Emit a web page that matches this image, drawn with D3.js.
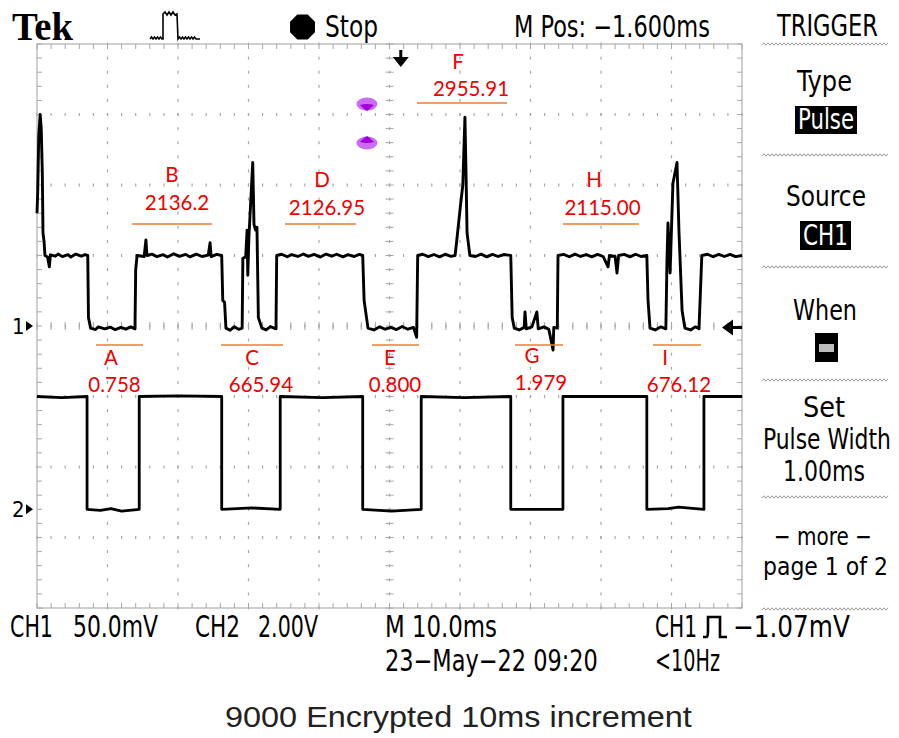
<!DOCTYPE html>
<html><head><meta charset="utf-8">
<script src="https://cdn.jsdelivr.net/npm/d3@7"></script>
<style>html,body{margin:0;padding:0;background:#fff;}svg{display:block;}</style>
</head><body>
<svg id="c" width="899" height="738"></svg>
<script>
// ================= DATA =================
const timeDomain = [0, 100];          // ms (10 div x 10.0 ms)
const divDomain = [-4, 4];            // vertical divisions
const ch1PerDiv = 50;                 // mV / div
const ch2PerDiv = 2;                  // V / div
const ch1GroundDiv = 0;
const ch2GroundDiv = -2.6;
const triggerLevel = -1.07;           // mV (CH1)
const triggerTime = 51.6;             // ms (M Pos -1.600ms from centre)

// CH1 trace [ms, mV]
const ch1Trace = [
 [0,80],[0.1,95],[0.25,135],[0.45,150],[0.6,140],[0.75,110],[0.85,66],[1.0,60],[1.13,50],
 [1.5,49],[1.75,42],[1.9,50.5],[2.6,49.5],[3.0,51],[3.6,49.2],[4.4,50.6],[4.8,48.9],[5.5,51],[6.3,49.5],[6.8,50.6],[7.2,50],
 [7.3,6],[7.6,-1.5],[8.3,-2.5],[8.7,-0.6],[9.6,-2],[10.4,-0.8],[11.1,-2.6],[11.9,-1],[12.6,-2.2],[13.3,-0.6],[13.9,-2],
 [14.0,40],[14.2,50],[15.2,49.3],[15.45,61],[15.6,50],[16.3,51],[17.0,49.2],[17.9,50.6],[18.5,48.9],[19.4,51.2],[20.2,49.4],
 [21.1,50.8],[21.7,49],[22.6,51],[23.4,49.3],[24.3,50.3],[24.55,59],[24.7,49.2],[25.5,50.8],[26.2,50],
 [26.35,18],[26.6,17],[26.8,-1.5],[27.4,-3],[28.0,-0.5],[28.6,-2.4],[29.1,-1.5],
 [29.2,48],[29.6,49],[29.8,68],[29.9,36],[30.05,62],[30.35,91.5],[30.6,116],[30.78,72],[31.0,68],[31.2,70],
 [31.4,6],[31.9,-1.5],[32.5,-2.8],[33.1,-0.4],[33.9,-2],
 [34.0,50],[34.7,50.9],[35.5,49.1],[36.1,50.7],[37.0,49.3],[37.8,51.1],[38.5,49.4],[39.3,50.8],[40.2,48.9],[41.0,51],
 [41.8,49.5],[42.5,50.9],[43.4,49],[44.1,50.6],[45.0,49.3],[45.7,50.8],[46.2,50],
 [46.4,18],[46.95,-1.5],[47.8,-2.8],[48.6,-0.6],[49.4,-2.3],[50.2,-1],[51.0,-2.5],[51.8,-0.4],[52.6,-2.3],[53.4,-1],[53.85,-8],
 [54.0,50],[54.7,50.9],[55.5,49.2],[56.3,50.7],[57.1,49],[57.9,50.9],[58.7,49.4],[59.3,50],
 [59.55,61],[60.1,87],[60.4,100],[60.7,148],[60.85,110],[61.0,66],[61.4,50],
 [62.2,49.3],[63.0,51],[63.8,49],[64.6,50.8],[65.4,49.3],[66.2,50.7],[67.2,50],
 [67.4,6],[67.7,-1.5],[68.4,-2.8],[69.1,-1],[69.22,10],[69.4,-2],[70.2,-0.6],[70.9,10],[71.1,-2],[71.9,-0.6],[72.6,-2.4],
 [73.2,-17],[73.3,-1],[73.8,-1.5],
 [73.9,50],[74.7,50.8],[75.5,49.1],[76.3,51],[77.1,49.3],[77.9,50.7],[78.7,49],[79.5,50.8],[80.3,49.3],[81.0,42],[81.2,50],
 [82.0,49.3],[82.27,37.6],[82.5,50],[83.3,50.8],[84.1,49],[84.9,50.9],[85.7,49.3],[86.5,50],
 [86.67,18.4],[86.95,-1.5],[87.7,-2.8],[88.5,-0.6],[89.2,-2],
 [89.36,47],[89.5,73],[89.8,37.6],[90.2,101],[90.78,116],[91.06,67],[91.5,11],[91.9,-1.5],[92.7,-2.8],[93.4,-0.6],[93.9,-2],
 [94.3,50],[95.1,50.9],[95.9,49.1],[96.7,50.8],[97.5,49.3],[98.3,50.8],[99.1,49.2],[100,50]
];

// CH2 trace [ms, V]
const ch2Trace = [
 [0,3.2],[3.5,3.17],[7.1,3.2],[7.1,0],[9,-0.03],[10.5,0.02],[12,-0.05],[14.5,0],[14.5,3.2],[20,3.22],[26.2,3.2],
 [26.2,0],[30.5,0.04],[34.5,0],[34.5,3.2],[40.5,3.17],[46.2,3.2],[46.2,0],[50.3,-0.05],[54.5,0],[54.5,3.2],
 [60.6,3.17],[67.2,3.2],[67.2,0],[74.6,0],[74.6,3.2],[86.5,3.2],[86.5,0],[89.5,0.02],[91.0,0.06],[94.6,0],
 [94.6,3.2],[100,3.2]
];

// Annotations (CH1 units: ms for time, mV for level)
const annLabels      = ["F","B","D","H","A","C","E","G","I"];
const annValues      = ["2955.91","2136.2","2126.95","2115.00","0.758","665.94","0.800","1.979","676.12"];
const annStart       = [53.9,13.48,35.18,74.61,8.37,26.1,47.52,67.8,87.38];
const annEnd         = [66.67,24.82,45.25,85.39,15.04,34.89,54.18,74.61,94.18];
const annLevel       = [158.2,72.3,72.3,72.3,-13.5,-13.5,-13.5,-13.5,-13.5];
const annLetterAt    = [59.72,19.15,40.43,79.01,10.5,30.5,50.07,70.21,89.08];
const annValueAt     = [61.56,19.86,41.13,80.21,10.99,31.77,50.78,71.49,91.06];
const annLetterLevel = [182.3,102.1,98.6,98.6,-27.7,-27.7,-27.7,-26.2,-27.7];
const annValueLevel  = [163.1,82.3,78.7,78.7,-46.8,-46.8,-46.8,-45.4,-46.8];

// purple markers [ms, mV]
const markerTime = 46.8;
const markerLevels = [157.4, 129.8];
const markerDirs = ["down","up"];

// Display labels
const topLabels = ["Stop", "M Pos: −1.600ms", "TRIGGER"];
const menuLabels = ["Type","Source","When","Set","Pulse Width","1.00ms","− more −","page 1 of 2"];
const menuBoxed = ["Pulse","CH1"];
const statusLabels = ["CH1","50.0mV","CH2","2.00V","M 10.0ms","CH1","−1.07mV","23−May−22 09:20","<10Hz"];
const caption = "9000 Encrypted 10ms increment";

// ================= DRAW =================
const svg = d3.select("#c");
svg.append("rect").attr("width",899).attr("height",738).attr("fill","#fff");

const X0 = 37, X1 = 742, Y0 = 44, Y1 = 608;
const xs = d3.scaleLinear().domain(timeDomain).range([X0, X1]);
const ys = d3.scaleLinear().domain(divDomain).range([Y1, Y0]);
const y1 = v => ys(ch1GroundDiv + v / ch1PerDiv);
const y2 = v => ys(ch2GroundDiv + v / ch2PerDiv);

const gridCol = "#a8a8a8";
const grid = svg.append("g");
const minorT = d3.range(timeDomain[0], timeDomain[1] + 0.01, 2);
const minorD = d3.range(divDomain[0], divDomain[1] + 0.01, 0.2);
const majorT = d3.range(10, 100, 10);
const majorD = d3.range(-3, 4, 1);

majorT.forEach(t => {
  grid.selectAll(null).data(minorD).enter().append("rect")
    .attr("x", xs(t) - 0.6).attr("y", d => ys(d) - 1.5).attr("width", 1.2).attr("height", 3)
    .attr("fill", gridCol);
});
majorD.forEach(dv => {
  grid.selectAll(null).data(minorT).enter().append("rect")
    .attr("x", d => xs(d) - 0.6).attr("y", ys(dv) - 1.5).attr("width", 1.2).attr("height", 3)
    .attr("fill", gridCol);
});
grid.selectAll(null).data(minorD).enter().append("line")
  .attr("x1", xs(50) - 4).attr("x2", xs(50) + 4).attr("y1", d => ys(d)).attr("y2", d => ys(d))
  .attr("stroke", gridCol).attr("stroke-width", 1);
grid.selectAll(null).data(minorT).enter().append("line")
  .attr("x1", d => xs(d)).attr("x2", d => xs(d)).attr("y1", ys(0) - 4).attr("y2", ys(0) + 4)
  .attr("stroke", gridCol).attr("stroke-width", 1);
grid.append("rect").attr("x", X0).attr("y", Y0).attr("width", X1 - X0).attr("height", Y1 - Y0)
  .attr("fill", "none").attr("stroke", "#b0b0b0").attr("stroke-width", 1.2);
grid.selectAll(null).data(minorT).enter().append("line")
  .attr("x1", d => xs(d)).attr("x2", d => xs(d)).attr("y1", Y0).attr("y2", Y0 + 5).attr("stroke", gridCol);
grid.selectAll(null).data(minorT).enter().append("line")
  .attr("x1", d => xs(d)).attr("x2", d => xs(d)).attr("y1", Y1).attr("y2", Y1 - 5).attr("stroke", gridCol);
grid.selectAll(null).data(minorD).enter().append("line")
  .attr("x1", X0).attr("x2", X0 + 5).attr("y1", d => ys(d)).attr("y2", d => ys(d)).attr("stroke", gridCol);
grid.selectAll(null).data(minorD).enter().append("line")
  .attr("x1", X1).attr("x2", X1 - 5).attr("y1", d => ys(d)).attr("y2", d => ys(d)).attr("stroke", gridCol);

// traces
const line1 = d3.line().x(d => xs(d[0])).y(d => y1(d[1]));
const line2 = d3.line().x(d => xs(d[0])).y(d => y2(d[1]));
svg.append("path").attr("d", line2(ch2Trace)).attr("fill", "none").attr("stroke", "#000")
  .attr("stroke-width", 2.8).attr("stroke-linejoin", "round");
svg.append("path").attr("d", line1(ch1Trace)).attr("fill", "none").attr("stroke", "#000")
  .attr("stroke-width", 2.9).attr("stroke-linejoin", "round");

// purple markers
markerLevels.forEach((lv, i) => {
  const cx = xs(markerTime), cy = y1(lv);
  const g = svg.append("g");
  g.append("ellipse").attr("cx", cx).attr("cy", cy).attr("rx", 10.5).attr("ry", 6.5).attr("fill", "#cc6cf5");
  const s = markerDirs[i] === "down" ? 1 : -1;
  g.append("path")
    .attr("d", `M${cx-7},${cy+s*1} Q${cx},${cy-s*1} ${cx+7},${cy+s*1} Q${cx+3},${cy+s*5} ${cx},${cy+s*7} Q${cx-3},${cy+s*5} ${cx-7},${cy+s*1}Z`)
    .attr("fill", "#a000d8");
});

// annotations
const red = "#f00000", orange = "#ed7d31";
const annFont = "Lato, 'Open Sans', sans-serif";
annLabels.forEach((lab, i) => {
  const ly = y1(annLevel[i]);
  svg.append("line").attr("x1", xs(annStart[i])).attr("x2", xs(annEnd[i]))
    .attr("y1", ly).attr("y2", ly).attr("stroke", orange).attr("stroke-width", 1.6);
  svg.append("text").attr("x", xs(annLetterAt[i])).attr("y", y1(annLetterLevel[i]))
    .attr("text-anchor", "middle").attr("font-family", annFont).attr("font-size", 20.5)
    .attr("fill", red).text(lab);
  svg.append("text").attr("x", xs(annValueAt[i])).attr("y", y1(annValueLevel[i]))
    .attr("text-anchor", "middle").attr("font-family", annFont).attr("font-size", 20.5)
    .attr("fill", red).text(annValues[i]);
});

// trigger markers
{
  const tx = xs(triggerTime);
  svg.append("line").attr("x1", tx).attr("x2", tx).attr("y1", 50).attr("y2", 59).attr("stroke", "#000").attr("stroke-width", 3);
  svg.append("path").attr("d", `M${tx-8},57 L${tx+8},57 L${tx},67 Z`).attr("fill", "#000");
  const ty = y1(triggerLevel);
  svg.append("line").attr("x1", X1 - 10).attr("x2", X1).attr("y1", ty).attr("y2", ty).attr("stroke", "#000").attr("stroke-width", 3);
  svg.append("path").attr("d", `M${X1-20},${ty} L${X1-9},${ty-8} L${X1-9},${ty+8} Z`).attr("fill", "#000");
}

const uiFont = "'DejaVu Sans Condensed','DejaVu Sans',sans-serif";
[["1", ys(ch1GroundDiv)], ["2", ys(ch2GroundDiv)]].forEach(([n, yy]) => {
  svg.append("text").attr("x", 12).attr("y", yy + 8).attr("font-family", uiFont).attr("font-size", 22)
    .attr("fill", "#000").text(n);
  svg.append("path").attr("d", `M26,${yy-5} L33,${yy} L26,${yy+5} Z`).attr("fill", "#000");
});

// text helper: fit text horizontally into [xl, xr] at baseline
function ui(str, xl, xr, base, size, fill, family, weight) {
  const g = svg.append("g");
  const t = g.append("text").attr("x", 0).attr("y", 0).attr("font-family", family || uiFont)
    .attr("font-size", size || 30).attr("fill", fill || "#000").attr("font-weight", weight || "normal").text(str);
  const w = t.node().getComputedTextLength();
  const sx = (xr - xl) / w;
  g.attr("transform", `translate(${xl},${base}) scale(${sx},1)`);
  return g;
}

// header
ui("Tek", 12, 73, 40, 40, "#000", "'Liberation Serif','DejaVu Serif',serif", "bold");
svg.append("path")
  .attr("d", "M150,39 l1.5,-2 l1.5,2 l1.5,-2 l1.5,2 l1.5,-2 l1.5,2 l1.5,-2 l1.5,2 L163,39 L163,14 l2,-2 l2,3 l2,-3 l2,3 l2,-3 l2,3 L177,14 L178,39 l1.5,-2 l1.5,2 l1.5,-2 l1.5,2 l1.5,-2 l1.5,2 l1.5,-2 l1.5,2 l1.5,-2 l1.5,2 l1.5,-2 l1.5,2 L200,39")
  .attr("fill", "none").attr("stroke", "#000").attr("stroke-width", 1.6);
svg.append("path").attr("d", d3.range(8).map((k, j) => {
    const a = Math.PI / 8 + j * Math.PI / 4;
    return (j ? "L" : "M") + (302.5 + 13.5 * Math.cos(a)) + "," + (27 + 13.5 * Math.sin(a));
  }).join("") + "Z").attr("fill", "#000");
ui(topLabels[0], 325, 378, 37);
ui(topLabels[1], 514, 710, 37);
ui(topLabels[2], 777, 878, 36);

// right menu
function wavy(y) {
  const pts = d3.range(762, 889, 2).map((x, k) => [x, y + (k % 2 ? -1.2 : 1.2)]);
  svg.append("path").attr("d", d3.line()(pts)).attr("fill", "none").attr("stroke", "#9a9a9a").attr("stroke-width", 1);
}
[44, 155, 267, 380, 497, 609].forEach(wavy);
ui(menuLabels[0], 797, 852, 91, 28);
svg.append("rect").attr("x", 795).attr("y", 106).attr("width", 62).attr("height", 28).attr("fill", "#000");
ui(menuBoxed[0], 798, 854, 129, 28, "#fff");
ui(menuLabels[1], 786, 866, 206, 28);
svg.append("rect").attr("x", 800).attr("y", 221).attr("width", 51).attr("height", 29).attr("fill", "#000");
ui(menuBoxed[1], 803, 848, 245, 28, "#fff");
ui(menuLabels[2], 793, 857, 320, 28);
svg.append("rect").attr("x", 815).attr("y", 333).attr("width", 23).attr("height", 29).attr("fill", "#000");
svg.append("rect").attr("x", 819).attr("y", 344).attr("width", 15).attr("height", 8).attr("fill", "#bdbdbd");
ui(menuLabels[3], 803, 845, 417, 28);
ui(menuLabels[4], 763, 891, 449, 28);
ui(menuLabels[5], 783, 865, 481, 28);
ui(menuLabels[6], 774, 872, 545, 25);
ui(menuLabels[7], 763, 888, 575, 25);

// status line
ui(statusLabels[0], 10, 53, 637);
ui(statusLabels[1], 73, 158, 637);
ui(statusLabels[2], 195, 240, 637);
ui(statusLabels[3], 258, 318, 637);
ui(statusLabels[4], 385, 497, 637);
ui(statusLabels[5], 655, 697, 637);
svg.append("path").attr("d", "M703,637 L707,637 Q708,637 708,630 L708,617 L720,617 L720,637 L727,637")
  .attr("fill", "none").attr("stroke", "#000").attr("stroke-width", 2.6);
ui(statusLabels[6], 733, 850, 637);
ui(statusLabels[7], 385, 598, 671);
ui(statusLabels[8], 655, 720, 671);

ui(caption, 225, 692, 727, 30, "#222", "'Liberation Sans',Arial,sans-serif");
</script>
</body></html>
